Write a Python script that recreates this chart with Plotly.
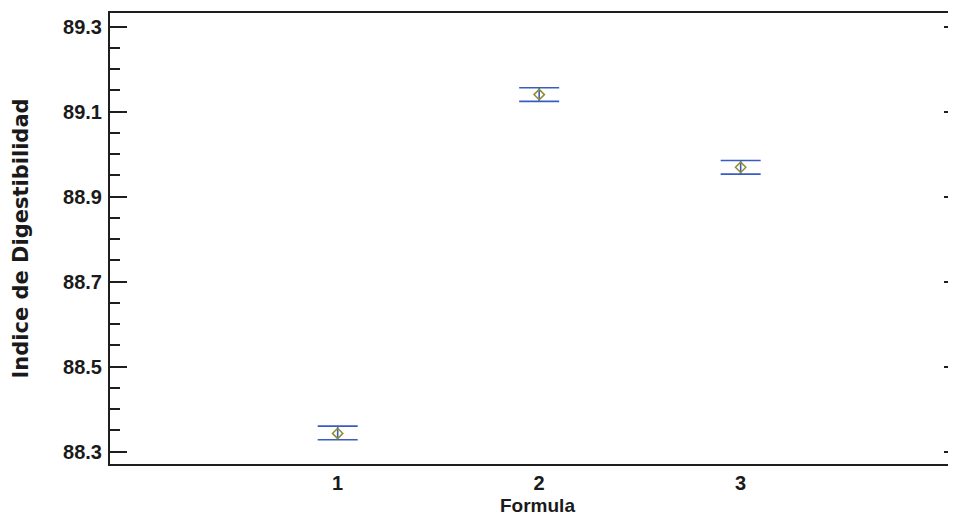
import plotly.graph_objects as go

formulas = [1, 2, 3]
tick_text = ["1", "2", "3"]
means = [88.343, 89.140, 88.969]
lower = [88.328, 89.124, 88.953]
upper = [88.360, 89.156, 88.985]
y_ticks = [88.3, 88.5, 88.7, 88.9, 89.1, 89.3]
x_title = "Formula"
y_title = "Indice de Digestibilidad"

err_plus = [u - m for u, m in zip(upper, means)]
err_minus = [m - l for m, l in zip(means, lower)]

fig = go.Figure()
fig.add_trace(go.Scatter(
    x=formulas, y=means, mode="markers",
    marker=dict(symbol="diamond-open", size=8, color="#8f8f2a", line=dict(width=1.5, color="#8f8f2a")),
    error_y=dict(type="data", symmetric=False, array=err_plus, arrayminus=err_minus,
                 color="#3a5cc0", thickness=1.6, width=20),
    showlegend=False, hoverinfo="x+y",
))
# invisible trace for the right-hand mirrored ticks
fig.add_trace(go.Scatter(x=[formulas[0]], y=[means[0]], yaxis="y2", mode="markers",
                         marker=dict(opacity=0), showlegend=False, hoverinfo="skip"))

yr = [88.271, 89.332]
fig.update_layout(
    width=940, height=510,
    margin=dict(l=102, r=0, t=5, b=54, autoexpand=False),
    plot_bgcolor="white", paper_bgcolor="white",
    font=dict(family="Liberation Sans, Arial, sans-serif", color="#1a1a1a"),
    xaxis=dict(
        range=[-0.13, 4.029], tickvals=formulas, ticktext=tick_text,
        showgrid=False, zeroline=False, ticks="", automargin=False,
        showline=True, mirror=True, linecolor="#1e1e1e", linewidth=2,
        tickfont=dict(size=20, weight="bold"),
        ticklabelstandoff=0,
    ),
    yaxis=dict(
        range=yr, tickvals=y_ticks, ticktext=[f"{v:.1f}" for v in y_ticks],
        showgrid=False, zeroline=False, automargin=False,
        ticks="inside", ticklen=17, tickwidth=2, tickcolor="#1e1e1e",
        minor=dict(dtick=0.05, tick0=88.3, ticks="inside", ticklen=10, tickwidth=2, tickcolor="#1e1e1e"),
        showline=True, linecolor="#1e1e1e", linewidth=2,
        tickfont=dict(size=20, weight="bold"),
        ticklabelstandoff=2,
    ),
    yaxis2=dict(
        range=yr, overlaying="y", side="right", tickvals=y_ticks, automargin=False,
        showticklabels=False, showgrid=False, zeroline=False, showline=False,
        ticks="inside", ticklen=4, tickwidth=2, tickcolor="#1e1e1e",
    ),
    annotations=[
        dict(text=f"<b>{x_title}</b>", xref="x", yref="paper", x=1.99, y=0,
             yshift=-41, showarrow=False, xanchor="center", yanchor="middle",
             font=dict(size=19, color="#1a1a1a")),
        dict(text=f"<b>{y_title}</b>", xref="paper", yref="paper", x=0, y=0.5,
             xshift=-90, showarrow=False, xanchor="center", yanchor="middle", textangle=-90,
             font=dict(size=21, family="DejaVu Sans, sans-serif", color="#1a1a1a")),
    ],
)

fig.write_html("out.html")
